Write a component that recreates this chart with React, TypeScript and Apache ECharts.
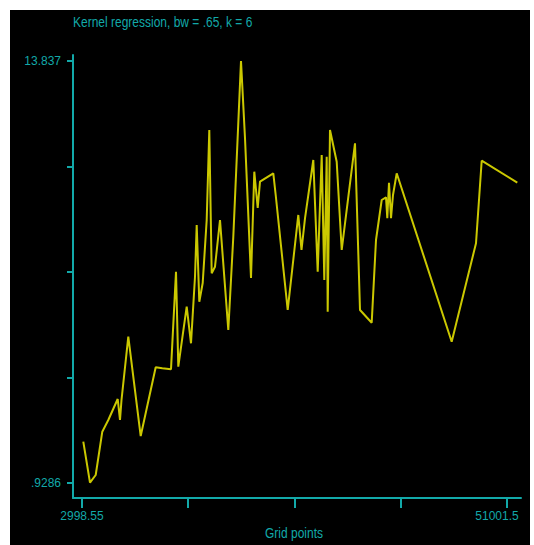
import React, { useEffect, useRef } from "react";
import * as echarts from "echarts";

// Grid points (x) and kernel regression estimates (y)
const gridPoints = [
  3145, 3902, 4546, 5291, 5969, 7031, 7291, 7460, 8228, 9629,
  11323, 12068, 13051, 13616, 13876, 14824, 15310, 15762, 15954, 16248,
  16632, 17083, 17377, 17648, 18021, 18586, 19523, 20088, 20958, 21409,
  22087, 22460, 22844, 23104, 24606, 24877, 26232, 27430, 27791, 28186,
  29124, 29621, 30073, 30366, 30637, 30750, 31010, 31767, 32332, 33834,
  34399, 35720, 36206, 36850, 37335, 37482, 37674, 37900, 38126, 38544,
  44755, 47501, 48145, 52166,
];
const estimates = [
  2.192, 0.938, 1.173, 2.498, 2.856, 3.498, 2.856, 3.468, 5.404, 2.366,
  4.468, 4.437, 4.407, 7.392, 4.486, 6.321, 5.202, 7.239, 8.821, 6.474,
  7.046, 8.974, 11.727, 7.343, 7.545, 8.974, 5.609, 8.463, 13.837, 11.482,
  7.199, 10.451, 9.341, 10.145, 10.402, 9.738, 6.221, 9.127, 8.056, 9.026,
  10.809, 7.392, 10.962, 7.138, 10.91, 6.169, 11.727, 10.757, 8.056, 11.32,
  6.221, 5.832, 8.362, 9.585, 9.668, 9.026, 10.115, 9.026, 9.738, 10.402,
  5.251, 8.261, 10.787, 10.115,
];

const xTicks = [2998.55, 14999.29, 27000.03, 39000.76, 51001.5];
const xTickLabels = ["2998.55", "", "", "", "51001.5"];
const yTicks = [0.9286, 4.1558, 7.3828, 10.6099, 13.837];
const yTickLabels = [".9286", "", "", "", "13.837"];

const titleText = "Kernel regression, bw = .65, k = 6";
const xTitle = "Grid points";

const X_MIN = 1982;
const X_MAX = 52584;
const Y_MIN = 0.4698;
const Y_MAX = 14.0207;

const CYAN = "#12a9a9";
const YELLOW = "#cbc800";
const FONT = "'Liberation Sans', Arial, sans-serif";

export default function App() {
  const ref = useRef<HTMLDivElement>(null);
  useEffect(() => {
    if (!ref.current) return;
    const chart = echarts.init(ref.current, undefined, { renderer: "svg" });
    const data = gridPoints.map((x, i) => [x, estimates[i]]);
    const labelFor = (ticks: number[], labels: string[]) => (v: number) => {
      let best = 0;
      for (let i = 1; i < ticks.length; i++) {
        if (Math.abs(ticks[i] - v) < Math.abs(ticks[best] - v)) best = i;
      }
      return labels[best];
    };
    const xLabel = labelFor(xTicks, xTickLabels);
    const yLabel = labelFor(yTicks, yTickLabels);
    chart.setOption({
      animation: false,
      backgroundColor: "transparent",
      grid: { left: 73, right: 13, top: 55, bottom: 47, containLabel: false },
      graphic: [
        {
          type: "text",
          x: 73,
          y: 15,
          scaleX: 0.8,
          style: { text: titleText, fill: CYAN, font: `15px ${FONT}` },
        },
        {
          type: "text",
          x: 294,
          y: 526,
          scaleX: 0.8,
          style: { text: xTitle, fill: CYAN, font: `15px ${FONT}`, align: "center" },
        },
      ],
      xAxis: {
        type: "value",
        min: X_MIN,
        max: X_MAX,
        splitLine: { show: false },
        axisLine: { show: true, lineStyle: { color: CYAN, width: 2 } },
        axisTick: {
          show: true,
          customValues: xTicks,
          length: 10,
          lineStyle: { color: CYAN, width: 2 },
        },
        axisLabel: {
          customValues: [xTicks[0], xTicks[xTicks.length - 1]],
          margin: 12,
          color: CYAN,
          fontSize: 12,
          fontFamily: FONT,
          formatter: (v: number) => {
            const t = xLabel(v);
            return v > (X_MIN + X_MAX) / 2 ? `{r|${t}}` : t;
          },
          rich: {
            r: { padding: [0, 20, 0, 0], color: CYAN, fontSize: 12, fontFamily: FONT },
          },
        },
      },
      yAxis: {
        type: "value",
        min: Y_MIN,
        max: Y_MAX,
        splitLine: { show: false },
        axisLine: { show: true, lineStyle: { color: CYAN, width: 2 } },
        axisTick: {
          show: true,
          customValues: yTicks,
          length: 6,
          lineStyle: { color: CYAN, width: 2 },
        },
        axisLabel: {
          customValues: [yTicks[0], yTicks[yTicks.length - 1]],
          margin: 12,
          color: CYAN,
          fontSize: 12,
          fontFamily: FONT,
          formatter: (v: number) => yLabel(v),
        },
      },
      series: [
        {
          type: "line",
          data,
          showSymbol: false,
          symbol: "none",
          clip: false,
          lineStyle: { color: YELLOW, width: 2 },
        },
      ],
    });
    return () => chart.dispose();
  }, []);
  return (
    <div style={{ position: "fixed", left: 0, top: 0, width: 534, height: 545, background: "#ffffff" }}>
      <div style={{ position: "absolute", left: 10, top: 10, width: 520, height: 535, background: "#000000" }} />
      <div ref={ref} style={{ position: "absolute", left: 0, top: 0, width: 534, height: 545 }} />
    </div>
  );
}
